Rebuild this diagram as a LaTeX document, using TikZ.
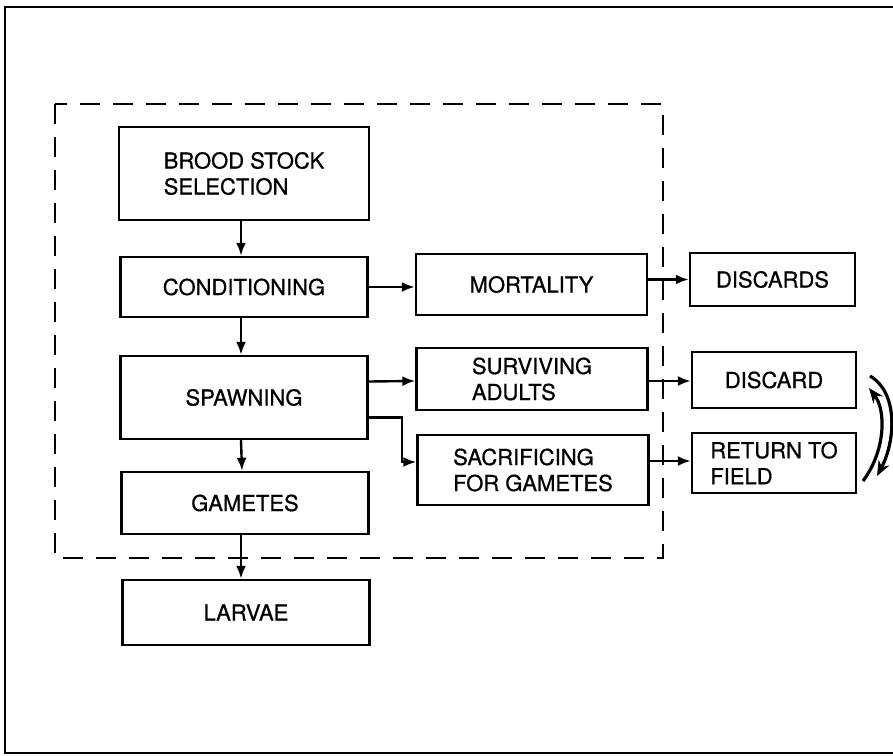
\documentclass[tikz,border=0pt]{standalone}
\usepackage{fontspec}
\setmainfont{TeX Gyre Heros}
\newfontfamily\labfont{TeX Gyre Heros}[FakeBold=0.7]
\usetikzlibrary{arrows.meta,calc}
\begin{document}
\begin{tikzpicture}[x=1pt,y=-1pt,
  box/.style={draw,line width=2.4pt,align=left,inner sep=0pt,
    font=\labfont\fontsize{22}{26}\selectfont},
  conn/.style={line width=2.4pt,-{Latex[length=13pt,width=10pt]}},
  curv/.style={line width=3.2pt,-{Stealth[length=15pt,width=12pt]}},
  frame/.style={line width=2.6pt},
  group/.style={line width=2.4pt,dash pattern=on 20pt off 13pt}]
\useasboundingbox (0,0) rectangle (893,755);
\draw[frame] (5,7) rectangle (905,753);
\draw[group] (55,104) rectangle (663,558);

\node[box,minimum width=250pt,minimum height=93pt] (brood) at (244,173.5) {BROOD STOCK\\SELECTION};
\node[box,minimum width=247pt,minimum height=60pt] (cond) at (244,287) {CONDITIONING};
\node[box,minimum width=247pt,minimum height=83pt] (spawn) at (244,397.5) {SPAWNING};
\node[box,minimum width=247pt,minimum height=62pt] (gam) at (245,503) {GAMETES};
\node[box,minimum width=247pt,minimum height=65pt] (larv) at (246,612.5) {LARVAE};

\node[box,minimum width=231pt,minimum height=61pt] (mort) at (531.5,284.5) {MORTALITY};
\node[box,minimum width=231pt,minimum height=62pt] (surv) at (532,379) {SURVIVING\\ADULTS};
\node[box,minimum width=231pt,minimum height=70pt] (sacr) at (533,470) {SACRIFICING\\FOR GAMETES};

\node[box,minimum width=165pt,minimum height=53pt] (discs) at (772.5,279.5) {DISCARDS};
\node[box,minimum width=164pt,minimum height=56pt] (disc) at (774,380) {DISCARD};
\node[box,minimum width=164pt,minimum height=60pt] (ret) at (774,463) {RETURN TO\\FIELD};

\draw[conn] ($(brood.south)+(-3,0)$) -- ($(cond.north)+(-3,0)$);
\draw[conn] ($(cond.south)+(-3,0)$) -- ($(spawn.north)+(-3,0)$);
\draw[conn] ($(spawn.south)+(-3,0)$) -- ($(gam.north)+(-3,0)$);
\draw[conn] ($(gam.south)+(-4,0)$) -- ($(larv.north)+(-5,0)$);

\draw[conn] (cond.east) -- (cond.east -| mort.west);
\draw[conn] (discs.west -| mort.east) -- (discs.west);
\draw[conn] ($(spawn.east)+(0,-16)$) -- ($(surv.west)+(0,2)$);
\draw[conn] ($(spawn.east)+(0,20)$) -- ++(33,0) |- ($(sacr.west)+(0,-8)$);
\draw[conn] ($(surv.east)+(0,2)$) -- ($(disc.west)+(0,1)$);
\draw[conn] ($(sacr.east)+(0,-9)$) -- ($(ret.west)+(0,-2)$);

\coordinate (c1a) at (863,481);
\coordinate (c1b) at (869,388);
\coordinate (c2a) at (870,376);
\coordinate (c2b) at (877,476);
\draw[curv] (c1a) .. controls (886,450) and (886,410) .. (c1b);
\draw[curv] (c2a) .. controls (898,392) and (896,440) .. (c2b);
\end{tikzpicture}
\end{document}
